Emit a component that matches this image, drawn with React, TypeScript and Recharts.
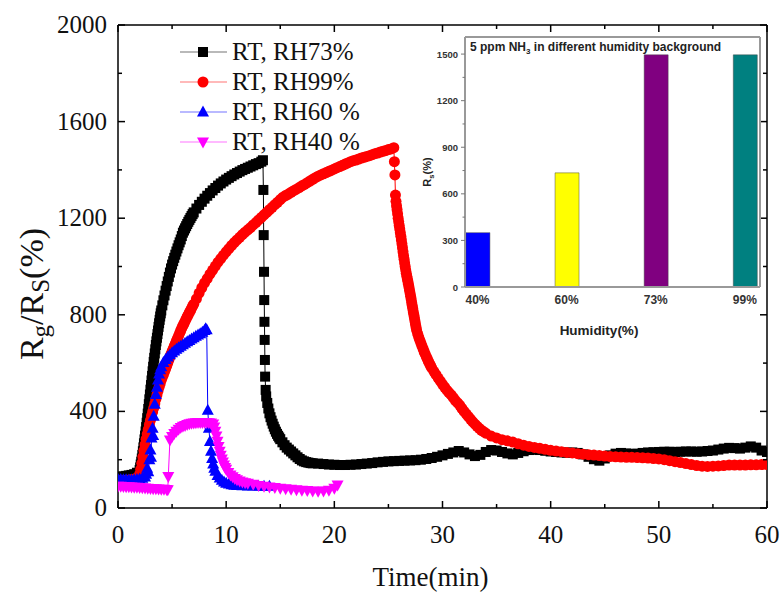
import { LineChart, Line, XAxis, YAxis, BarChart, Bar, Cell } from 'recharts'

const serif = '"Liberation Serif", "Times New Roman", serif'
const sans = '"Liberation Sans", Arial, sans-serif'

// main axes
const xTicks = [0, 5, 10, 15, 20, 25, 30, 35, 40, 45, 50, 55, 60]
const yTicks = [0, 200, 400, 600, 800, 1000, 1200, 1400, 1600, 1800, 2000]

// [time (min), Rg/Rs (%)]
const rh73 = [
  [0, 128], [0.25, 130], [0.5, 131], [0.75, 133], [1, 135], [1.25, 137], [1.5, 140], [1.75, 146], [2, 157],
  [2.05, 168], [2.1, 180], [2.15, 192], [2.2, 205], [2.25, 220], [2.3, 235], [2.35, 251], [2.4, 268],
  [2.45, 284], [2.5, 300], [2.55, 317], [2.6, 335], [2.65, 353], [2.7, 372], [2.75, 391], [2.8, 410],
  [2.85, 430], [2.9, 450], [2.95, 470], [3, 490], [3.05, 509], [3.1, 528], [3.15, 547], [3.2, 566],
  [3.25, 585], [3.3, 605], [3.35, 622], [3.4, 640], [3.45, 657], [3.5, 675], [3.55, 690], [3.6, 705],
  [3.65, 720], [3.7, 735], [3.75, 750], [3.8, 765], [3.85, 779], [3.9, 793], [3.95, 806], [4, 818],
  [4.1, 839], [4.2, 860], [4.3, 880], [4.4, 900], [4.5, 919], [4.6, 938], [4.7, 957], [4.8, 975], [4.9, 992],
  [5, 1008], [5.1, 1022], [5.2, 1036], [5.3, 1049], [5.4, 1062], [5.5, 1075], [5.6, 1088], [5.7, 1100],
  [5.8, 1112], [5.9, 1126], [6, 1140], [6.1, 1149], [6.2, 1158], [6.3, 1167], [6.4, 1176], [6.5, 1185],
  [6.6, 1193], [6.7, 1201], [6.8, 1209], [6.9, 1217], [7, 1224],
  [7.25, 1240], [7.5, 1255], [7.75, 1268], [8, 1281], [8.25, 1293], [8.5, 1304], [8.75, 1315], [9, 1325],
  [9.25, 1335], [9.5, 1344], [9.75, 1352], [10, 1360], [10.25, 1367], [10.5, 1374], [10.75, 1381], [11, 1387],
  [11.25, 1393], [11.5, 1399], [11.75, 1404], [12, 1409], [12.25, 1414], [12.5, 1419], [12.75, 1424],
  [13, 1428], [13.25, 1434], [13.4, 1440],
  [13.44, 1317], [13.47, 1130], [13.5, 978], [13.52, 861], [13.54, 771], [13.56, 696], [13.58, 613],
  [13.6, 544], [13.65, 489], [13.7, 462], [13.8, 435], [13.9, 412], [14, 392], [14.1, 376], [14.2, 362],
  [14.3, 349], [14.4, 337], [14.5, 326], [14.6, 316], [14.7, 307], [14.8, 299], [14.9, 292], [15, 285],
  [15.2, 272], [15.4, 260], [15.6, 250], [15.8, 242], [16, 234], [16.2, 226], [16.4, 218], [16.6, 210],
  [16.8, 203], [17, 197], [17.2, 193], [17.4, 190], [17.6, 188], [17.8, 186], [18, 185], [18.5, 184],
  [19, 182], [19.5, 180], [20, 179], [20.5, 178], [21, 178], [21.5, 179], [22, 180], [22.5, 182], [23, 184],
  [23.5, 186], [24, 189], [24.5, 191], [25, 193], [25.5, 194], [26, 195], [26.5, 196], [27, 197], [27.5, 198],
  [28, 200], [28.5, 203], [29, 207], [29.5, 212], [30, 218], [30.5, 224], [31, 230], [31.5, 236], [32, 230],
  [32.5, 222], [33, 215], [33.5, 220], [34, 232], [34.5, 240], [35, 238], [35.5, 232], [36, 226], [36.5, 222],
  [37, 228], [37.5, 235], [38, 240], [38.5, 241], [39, 240], [39.5, 237], [40, 234], [40.5, 232], [41, 230],
  [41.5, 229], [42, 230], [42.5, 228], [43, 222], [43.5, 212], [44, 202], [44.5, 196], [45, 205], [45.5, 218],
  [46, 225], [46.5, 228], [47, 226], [47.5, 224], [48, 225], [48.5, 228], [49, 230], [49.5, 231], [50, 232],
  [50.5, 233], [51, 233], [51.5, 232], [52, 233], [52.5, 234], [53, 234], [53.5, 233], [54, 234], [54.5, 236],
  [55, 238], [55.5, 242], [56, 246], [56.5, 249], [57, 248], [57.5, 246], [58, 250], [58.5, 255], [59, 250],
  [59.5, 238], [60, 232],
]

const rh99 = [
  [0, 112], [0.25, 113], [0.5, 114], [0.75, 115], [1, 116], [1.25, 118], [1.5, 120], [1.75, 125], [2, 140],
  [2.1, 160], [2.2, 185], [2.3, 212], [2.4, 238], [2.5, 262], [2.6, 285], [2.7, 306], [2.8, 326], [2.9, 345],
  [3, 363], [3.1, 381], [3.2, 398], [3.3, 414], [3.4, 432], [3.5, 450], [3.6, 468], [3.7, 484], [3.8, 500],
  [3.9, 515], [4, 530], [4.1, 541], [4.2, 553], [4.3, 565], [4.4, 576], [4.5, 588], [4.6, 600], [4.7, 613],
  [4.8, 625], [4.9, 637], [5, 648], [5.1, 659], [5.2, 670], [5.3, 681], [5.4, 692], [5.5, 702], [5.6, 713],
  [5.7, 724], [5.8, 735], [5.9, 745], [6, 755], [6.1, 764], [6.2, 773], [6.3, 783], [6.4, 792], [6.5, 801],
  [6.6, 810], [6.7, 818], [6.8, 827], [6.9, 836], [7, 844], [7.25, 866],
  [7.5, 890], [7.75, 912], [8, 932], [8.25, 950], [8.5, 968], [8.75, 985], [9, 1002], [9.25, 1018],
  [9.5, 1033], [9.75, 1047], [10, 1061], [10.25, 1074], [10.5, 1087], [10.75, 1099], [11, 1110],
  [11.25, 1121], [11.5, 1132], [11.75, 1142], [12, 1152], [12.25, 1161], [12.5, 1172], [12.75, 1182],
  [13, 1193], [13.25, 1203], [13.5, 1214], [13.75, 1224], [14, 1235], [14.25, 1245], [14.5, 1256],
  [14.75, 1266], [15, 1277], [15.25, 1287], [15.5, 1294], [15.75, 1300], [16, 1307], [16.25, 1314],
  [16.5, 1320], [16.75, 1327], [17, 1334], [17.25, 1340], [17.5, 1347], [17.75, 1354], [18, 1361],
  [18.25, 1368], [18.5, 1374], [18.75, 1379], [19, 1384], [19.25, 1389], [19.5, 1394], [19.75, 1399],
  [20, 1404], [20.25, 1409], [20.5, 1414], [20.75, 1419], [21, 1424], [21.25, 1429], [21.5, 1434],
  [21.75, 1438], [22, 1441], [22.25, 1445], [22.5, 1449], [22.75, 1452], [23, 1456], [23.25, 1459],
  [23.5, 1463], [23.75, 1467], [24, 1470], [24.25, 1474], [24.5, 1477], [24.75, 1480], [25, 1484],
  [25.25, 1487], [25.5, 1492],
  [25.55, 1434], [25.6, 1379], [25.65, 1296], [25.7, 1270], [25.75, 1252], [25.8, 1235], [25.85, 1218],
  [25.9, 1200], [25.95, 1185], [26, 1170], [26.05, 1155], [26.1, 1140], [26.15, 1125], [26.2, 1110],
  [26.25, 1094], [26.3, 1078], [26.35, 1061], [26.4, 1045], [26.45, 1030], [26.5, 1015], [26.55, 1000],
  [26.6, 985], [26.65, 972], [26.7, 960], [26.75, 949], [26.8, 938], [26.85, 926], [26.9, 915], [26.95, 902],
  [27, 890], [27.05, 877], [27.1, 865], [27.15, 851], [27.2, 838], [27.25, 825], [27.3, 812], [27.35, 800],
  [27.4, 788], [27.45, 775], [27.5, 762], [27.55, 750],
  [27.6, 738], [27.7, 722], [27.8, 708], [27.9, 695], [28, 683], [28.1, 671], [28.2, 660], [28.3, 648],
  [28.4, 637], [28.5, 627], [28.6, 617], [28.7, 607], [28.8, 598], [28.9, 589], [29, 580], [29.2, 566],
  [29.4, 552], [29.6, 538], [29.8, 525], [30, 512], [30.2, 500], [30.4, 488], [30.6, 478], [30.8, 468],
  [31, 457], [31.2, 445], [31.4, 435], [31.6, 425], [31.8, 412], [32, 400], [32.2, 389], [32.4, 378],
  [32.6, 367], [32.8, 357], [33, 347], [33.2, 338], [33.4, 330], [33.6, 322], [33.8, 316], [34, 310],
  [34.5, 298], [35, 290], [35.5, 283], [36, 278], [36.5, 273], [37, 266], [37.5, 260], [38, 255],
  [38.5, 251], [39, 247], [39.5, 243], [40, 239], [40.5, 236], [41, 233], [41.5, 230], [42, 228],
  [42.5, 225], [43, 223], [43.5, 221], [44, 219], [44.5, 217], [45, 215], [45.5, 213], [46, 212],
  [46.5, 211], [47, 210], [47.5, 210], [48, 209], [48.5, 208], [49, 207], [49.5, 205], [50, 203],
  [50.5, 200], [51, 196], [51.5, 192], [52, 188], [52.5, 184], [53, 180], [53.5, 176], [54, 173],
  [54.5, 172], [55, 173], [55.5, 174], [56, 176], [56.5, 178], [57, 178], [57.5, 178], [58, 178],
  [58.5, 179], [59, 179], [59.5, 180], [60, 180],
]

const rh60 = [
  [0, 118], [0.25, 118], [0.5, 117], [0.75, 117], [1, 116], [1.25, 116], [1.5, 117], [1.75, 118], [2, 120],
  [2.25, 123], [2.5, 128], [2.6, 140], [2.7, 165], [2.8, 150], [2.9, 200], [3, 240], [3.05, 210], [3.1, 290],
  [3.2, 330], [3.25, 300], [3.3, 380], [3.4, 430], [3.5, 470], [3.6, 500], [3.7, 530], [3.8, 555], [3.9, 572],
  [4, 585], [4.2, 603], [4.4, 615], [4.6, 625], [4.8, 635], [5, 643], [5.2, 650], [5.4, 657], [5.6, 664],
  [5.8, 670], [6, 676], [6.2, 682], [6.4, 688], [6.6, 694], [6.8, 700], [7, 705], [7.2, 711], [7.4, 716],
  [7.6, 722], [7.8, 728], [8, 735], [8.1, 742], [8.2, 738], [8.3, 405], [8.4, 330], [8.5, 275], [8.6, 235],
  [8.7, 205], [8.8, 182], [8.9, 165], [9, 152], [9.2, 135], [9.4, 124], [9.6, 115], [9.8, 108], [10, 103],
  [10.25, 99], [10.5, 96], [10.75, 94], [11, 93], [11.5, 92], [12, 91], [12.5, 91], [13, 90], [13.5, 90],
  [14, 90],
]

const rh40 = [
  [0, 90], [0.25, 90], [0.5, 89], [0.75, 88], [1, 88], [1.25, 87], [1.5, 86], [1.75, 86], [2, 85], [2.25, 84],
  [2.5, 83], [2.75, 82], [3, 81], [3.25, 80], [3.5, 80], [3.75, 79], [4, 78], [4.25, 78], [4.5, 77],
  [4.6, 76], [4.65, 130], [4.8, 282], [5, 296], [5.2, 308], [5.4, 318], [5.6, 326], [5.8, 333], [6, 338],
  [6.2, 342], [6.4, 346], [6.6, 349], [6.8, 351], [7, 352], [7.2, 353], [7.4, 354], [7.6, 354], [7.8, 354],
  [8, 354], [8.2, 354], [8.4, 353], [8.6, 352], [8.8, 348], [8.9, 335], [9, 318], [9.1, 298], [9.2, 276],
  [9.3, 255], [9.4, 235], [9.5, 218], [9.6, 203], [9.7, 190], [9.8, 178], [9.9, 168], [10, 160],
  [10.2, 147], [10.4, 137], [10.6, 129], [10.8, 122], [11, 117], [11.25, 112], [11.5, 108], [11.75, 105],
  [12, 102], [12.5, 98], [13, 93], [13.5, 90], [14, 87], [14.5, 85], [15, 82], [15.5, 80], [16, 78],
  [16.5, 76], [17, 74], [17.5, 72], [18, 70], [18.5, 69], [19, 70], [19.5, 73], [20, 82], [20.3, 95],
]

// inset bars
const insetCategories = ['40%', '60%', '73%', '99%']
const insetValues = [350, 735, 1495, 1495]
const insetColors = ['#0000ff', '#ffff00', '#800080', '#008080']
const insetYTicks = [0, 150, 300, 450, 600, 750, 900, 1050, 1200, 1350, 1500]

const series = [
  { name: 'RT, RH73%', color: '#000000', shape: 'square', points: rh73 },
  { name: 'RT, RH99%', color: '#ff0000', shape: 'circle', points: rh99 },
  { name: 'RT, RH60 %', color: '#0000ff', shape: 'up', points: rh60 },
  { name: 'RT, RH40 %', color: '#ff00ff', shape: 'down', points: rh40 },
]

function Marker({ cx, cy, shape, color }: any) {
  if (cx == null || cy == null) return null
  if (shape === 'square') return <rect x={cx - 5} y={cy - 5} width={10} height={10} fill={color} />
  if (shape === 'circle') return <circle cx={cx} cy={cy} r={5.5} fill={color} />
  if (shape === 'up')
    return <polygon points={`${cx},${cy - 6.5} ${cx - 6},${cy + 4.5} ${cx + 6},${cy + 4.5}`} fill={color} />
  return <polygon points={`${cx},${cy + 6.5} ${cx - 6},${cy - 4.5} ${cx + 6},${cy - 4.5}`} fill={color} />
}

function BottomTick({ x, y, payload }: any) {
  const major = payload.value % 10 === 0
  return (
    <g>
      <line x1={x} x2={x} y1={y} y2={y - (major ? 7 : 4)} stroke="#000" strokeWidth={1.5} />
      {major && (
        <text x={x} y={y + 35} textAnchor="middle" fontFamily={serif} fontSize={25} fill="#111">
          {payload.value}
        </text>
      )}
    </g>
  )
}

function TopTick({ x, y, payload }: any) {
  const major = payload.value % 10 === 0
  return <line x1={x} x2={x} y1={y} y2={y + (major ? 7 : 4)} stroke="#000" strokeWidth={1.5} />
}

function LeftTick({ x, y, payload }: any) {
  const major = payload.value % 400 === 0
  return (
    <g>
      <line x1={x} x2={x + (major ? 7 : 4)} y1={y} y2={y} stroke="#000" strokeWidth={1.5} />
      {major && (
        <text x={x - 11} y={y + 8} textAnchor="end" fontFamily={serif} fontSize={25} fill="#111">
          {payload.value}
        </text>
      )}
    </g>
  )
}

function RightTick({ x, y, payload }: any) {
  const major = payload.value % 400 === 0
  return <line x1={x} x2={x - (major ? 7 : 4)} y1={y} y2={y} stroke="#000" strokeWidth={1.5} />
}

function InsetYTick({ x, y, payload }: any) {
  const major = payload.value % 300 === 0
  return (
    <g>
      <line x1={x} x2={x - (major ? 4 : 2.5)} y1={y} y2={y} stroke="#777" strokeWidth={1} />
      {major && (
        <text x={x - 7} y={y + 3.5} textAnchor="end" fontFamily={sans} fontWeight="bold" fontSize={9.5} fill="#333">
          {payload.value}
        </text>
      )}
    </g>
  )
}

function InsetXTick({ x, y, payload }: any) {
  return (
    <text x={x} y={y + 17} textAnchor="middle" fontFamily={sans} fontWeight="bold" fontSize={12} fill="#333">
      {insetCategories[payload.value]}
    </text>
  )
}

function Inset() {
  const data = insetValues.map((v, i) => ({ h: i, v }))
  const frame = { stroke: '#999', strokeWidth: 2 }
  return (
    <div style={{ position: 'absolute', left: 400, top: 20, width: 380, height: 330 }}>
      <BarChart width={380} height={330} data={data} margin={{ top: 16, right: 19, bottom: 62, left: 64 }}>
        <XAxis
          dataKey="h"
          type="number"
          domain={[-0.14, 3.17]}
          ticks={[0, 1, 2, 3]}
          interval={0}
          height={1}
          tickSize={0}
          tickMargin={0}
          tickLine={false}
          axisLine={frame}
          tick={(p: any) => <InsetXTick {...p} />}
          allowDataOverflow
        />
        <XAxis
          xAxisId="top"
          orientation="top"
          dataKey="h"
          type="number"
          domain={[-0.14, 3.17]}
          height={1}
          tick={false}
          tickLine={false}
          axisLine={frame}
          allowDataOverflow
        />
        <YAxis
          type="number"
          domain={[0, 1610]}
          ticks={insetYTicks}
          interval={0}
          width={1}
          tickSize={0}
          tickMargin={0}
          tickLine={false}
          axisLine={frame}
          tick={(p: any) => <InsetYTick {...p} />}
          allowDataOverflow
        />
        <YAxis
          yAxisId="right"
          orientation="right"
          type="number"
          domain={[0, 1610]}
          width={1}
          tick={false}
          tickLine={false}
          axisLine={frame}
          allowDataOverflow
        />
        <Bar dataKey="v" barSize={24} isAnimationActive={false} stroke="#444" strokeOpacity={0.6} strokeWidth={0.8}>
          {data.map((d, i) => (
            <Cell key={`c-${i}`} fill={insetColors[i]} />
          ))}
        </Bar>
      </BarChart>
      <svg width={380} height={330} style={{ position: 'absolute', left: 0, top: 0, pointerEvents: 'none' }}>
        <text x={70} y={31} fontFamily={sans} fontWeight="bold" fontSize={12} fill="#222">
          5 ppm NH<tspan fontSize={8} dy={3}>3</tspan>
          <tspan dy={-3}> in different humidity background</tspan>
        </text>
        <text
          x={31}
          y={152}
          transform="rotate(-90, 31, 152)"
          textAnchor="middle"
          fontFamily={sans}
          fontWeight="bold"
          fontSize={11}
          fill="#222"
        >
          R<tspan fontSize={7.5} dy={3}>s</tspan>
          <tspan dy={-3}>(%)</tspan>
        </text>
        <text x={199} y={315} textAnchor="middle" fontFamily={sans} fontWeight="bold" fontSize={13.5} fill="#222">
          Humidity(%)
        </text>
      </svg>
    </div>
  )
}

function LegendBox() {
  return (
    <svg width={220} height={130} style={{ position: 'absolute', left: 170, top: 30 }}>
      {series.map((s, i) => {
        const cy = 22 + i * 30
        return (
          <g key={s.name}>
            <line x1={10} x2={57} y1={cy} y2={cy} stroke={s.color} strokeOpacity={0.55} strokeWidth={1.2} />
            <Marker cx={33} cy={cy} shape={s.shape} color={s.color} />
            <text x={62} y={cy + 8} style={{ fontFamily: serif }} fontSize={25} fill="#111">
              {s.name}
            </text>
          </g>
        )
      })}
    </svg>
  )
}

export default function App() {
  return (
    <div
      style={{
        position: 'absolute',
        left: 0,
        top: 0,
        width: 781,
        height: 592,
        background: '#fff',
        overflow: 'hidden',
      }}
    >
      <LineChart width={781} height={592} margin={{ top: 24, right: 13, bottom: 83, left: 117 }}>
        <XAxis
          xAxisId="b"
          dataKey="t"
          type="number"
          domain={[0, 60]}
          ticks={xTicks}
          interval={0}
          height={1}
          tickSize={0}
          tickMargin={0}
          tickLine={false}
          axisLine={{ stroke: '#000', strokeWidth: 1.5 }}
          tick={(p: any) => <BottomTick {...p} />}
          allowDataOverflow
        />
        <XAxis
          xAxisId="t"
          orientation="top"
          dataKey="t"
          type="number"
          domain={[0, 60]}
          ticks={xTicks}
          interval={0}
          height={1}
          tickSize={0}
          tickMargin={0}
          tickLine={false}
          axisLine={{ stroke: '#000', strokeWidth: 1.5 }}
          tick={(p: any) => <TopTick {...p} />}
          allowDataOverflow
        />
        <YAxis
          yAxisId="l"
          type="number"
          domain={[0, 2000]}
          ticks={yTicks}
          interval={0}
          width={1}
          tickSize={0}
          tickMargin={0}
          tickLine={false}
          axisLine={{ stroke: '#000', strokeWidth: 1.5 }}
          tick={(p: any) => <LeftTick {...p} />}
          allowDataOverflow
        />
        <YAxis
          yAxisId="r"
          orientation="right"
          type="number"
          domain={[0, 2000]}
          ticks={yTicks}
          interval={0}
          width={1}
          tickSize={0}
          tickMargin={0}
          tickLine={false}
          axisLine={{ stroke: '#000', strokeWidth: 1.5 }}
          tick={(p: any) => <RightTick {...p} />}
          allowDataOverflow
        />
        {series.map((s) => (
          <Line
            key={s.name}
            xAxisId="b"
            yAxisId="l"
            data={s.points.map(([t, v]) => ({ t, v }))}
            dataKey="v"
            type="linear"
            stroke={s.color}
            strokeWidth={1}
            dot={(p: any) => <Marker key={`${s.name}-${p.index}`} cx={p.cx} cy={p.cy} shape={s.shape} color={s.color} />}
            activeDot={false}
            isAnimationActive={false}
          />
        ))}
      </LineChart>
      <LegendBox />
      <Inset />
      <svg width={60} height={592} style={{ position: 'absolute', left: 0, top: 0 }}>
        <text
          x={43}
          y={294}
          transform="rotate(-90, 43, 294)"
          textAnchor="middle"
          fontFamily={serif}
          fontSize={34}
          fill="#111"
        >
          R<tspan fontSize={25} dy={6}>g</tspan>
          <tspan dy={-6}>/R</tspan>
          <tspan fontSize={25} dy={6}>S</tspan>
          <tspan dy={-6}>(%)</tspan>
        </text>
      </svg>
      <div
        style={{
          position: 'absolute',
          left: 0,
          width: 781,
          top: 562,
          textAlign: 'center',
          paddingLeft: 80,
          boxSizing: 'border-box',
          fontFamily: serif,
          fontSize: 27,
          color: '#111',
          lineHeight: '30px',
        }}
      >
        Time(min)
      </div>
    </div>
  )
}
